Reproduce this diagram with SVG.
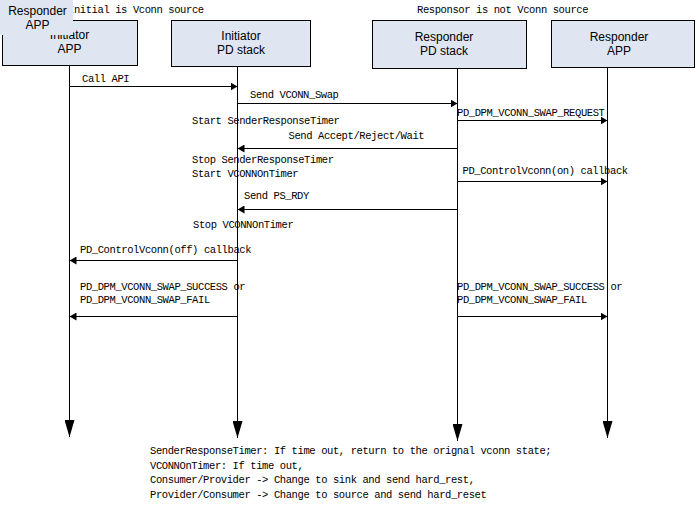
<svg xmlns="http://www.w3.org/2000/svg" width="698" height="506" viewBox="0 0 698 506">
  <style>
    .box { fill: #dfe6f1; stroke: #000; stroke-width: 1; }
    .lbl { font-family: "Liberation Sans", Arial, sans-serif; font-size: 12px; fill: #000; text-anchor: middle; }
    .mono { font-family: "Liberation Mono", "DejaVu Sans Mono", monospace; font-size: 10.5px; letter-spacing: -0.4px; fill: #000; }
    .life { stroke: #000; stroke-width: 1; fill: none; marker-end: url(#lifeEnd); }
    .msg { stroke: #000; stroke-width: 1; fill: none; marker-end: url(#msgEnd); }
  </style>
  <defs>
    <marker id="msgEnd" markerUnits="userSpaceOnUse" markerWidth="7" markerHeight="8" refX="7" refY="4" orient="auto">
      <path d="M0,0 L7,4 L0,8 z" fill="#000"/>
    </marker>
    <marker id="lifeEnd" markerUnits="userSpaceOnUse" markerWidth="17" markerHeight="10" refX="17" refY="5" orient="auto">
      <path d="M0,0 L17,5 L0,10 z" fill="#000"/>
    </marker>
  </defs>

  <rect width="698" height="506" fill="#fff"/>

  <!-- participants -->
  <g id="initiator-app">
    <rect class="box" x="2.5" y="20.5" width="135" height="45"/>
    <text class="lbl" x="69.5" y="39">Initiator</text>
    <text class="lbl" x="69.5" y="53">APP</text>
  </g>
  <g id="initiator-pd">
    <rect class="box" x="171.5" y="20.5" width="139" height="46"/>
    <text class="lbl" x="241" y="40">Initiator</text>
    <text class="lbl" x="241" y="54">PD stack</text>
  </g>
  <g id="responder-pd">
    <rect class="box" x="372.5" y="20.5" width="154" height="48"/>
    <text class="lbl" x="444" y="41">Responder</text>
    <text class="lbl" x="444" y="55">PD stack</text>
  </g>
  <g id="responder-app">
    <rect class="box" x="551.5" y="20.5" width="143" height="47"/>
    <text class="lbl" x="619" y="41">Responder</text>
    <text class="lbl" x="619" y="55">APP</text>
  </g>

  <!-- section captions -->
  <text class="mono" x="68" y="13">Initial is Vconn source</text>
  <text class="mono" x="417" y="13">Responsor is not Vconn source</text>

  <!-- floating label box over the top-left corner -->
  <g id="responder-app-tag">
    <rect x="0" y="0" width="73" height="35" fill="#dfe6f1"/>
    <text class="lbl" x="37.5" y="15">Responder</text>
    <text class="lbl" x="37.5" y="28.5">APP</text>
  </g>

  <!-- lifelines and messages -->
  <g id="connectors">
    <line class="life" x1="69.5" y1="66" x2="69.5" y2="437"/>
    <line class="life" x1="237.5" y1="67" x2="237.5" y2="438"/>
    <line class="life" x1="457.5" y1="69" x2="457.5" y2="441"/>
    <line class="life" x1="607.5" y1="68" x2="607.5" y2="438"/>

    <line class="msg" x1="69.5" y1="86.5" x2="237.5" y2="86.5"/>
    <line class="msg" x1="237.5" y1="103.5" x2="457.5" y2="103.5"/>
    <line class="msg" x1="457.5" y1="120.5" x2="607.5" y2="120.5"/>
    <line class="msg" x1="457.5" y1="148.5" x2="237.5" y2="148.5"/>
    <line class="msg" x1="457.5" y1="181.5" x2="607.5" y2="181.5"/>
    <line class="msg" x1="457.5" y1="209.5" x2="237.5" y2="209.5"/>
    <line class="msg" x1="237.5" y1="260.5" x2="69.5" y2="260.5"/>
    <line class="msg" x1="237.5" y1="316.5" x2="69.5" y2="316.5"/>
    <line class="msg" x1="457.5" y1="316.5" x2="607.5" y2="316.5"/>
  </g>

  <!-- message labels -->
  <g id="labels">
    <text class="mono" x="82" y="82">Call API</text>
    <text class="mono" x="250" y="97.5">Send VCONN_Swap</text>
    <text class="mono" x="457" y="115.5">PD_DPM_VCONN_SWAP_REQUEST</text>
    <text class="mono" x="192" y="123.5">Start SenderResponseTimer</text>
    <text class="mono" x="288.5" y="138.5">Send Accept/Reject/Wait</text>
    <text class="mono" x="192" y="163">Stop SenderResponseTimer</text>
    <text class="mono" x="192" y="177">Start VCONNOnTimer</text>
    <text class="mono" x="462.5" y="173.5">PD_ControlVconn(on) callback</text>
    <text class="mono" x="244" y="198.5">Send PS_RDY</text>
    <text class="mono" x="193" y="228">Stop VCONNOnTimer</text>
    <text class="mono" x="80" y="252.5">PD_ControlVconn(off) callback</text>
    <text class="mono" x="80" y="289.5">PD_DPM_VCONN_SWAP_SUCCESS or</text>
    <text class="mono" x="80" y="302.5">PD_DPM_VCONN_SWAP_FAIL</text>
    <text class="mono" x="457" y="289.5">PD_DPM_VCONN_SWAP_SUCCESS or</text>
    <text class="mono" x="457" y="302.5">PD_DPM_VCONN_SWAP_FAIL</text>
  </g>

  <!-- timer notes -->
  <g id="notes">
    <text class="mono" x="150" y="454">SenderResponseTimer: If time out, return to the orignal vconn state;</text>
    <text class="mono" x="150" y="468.5">VCONNOnTimer: If time out,</text>
    <text class="mono" x="150" y="483">Consumer/Provider -&gt; Change to sink and send hard_rest,</text>
    <text class="mono" x="150" y="497.5">Provider/Consumer -&gt; Change to source and send hard_reset</text>
  </g>
</svg>
